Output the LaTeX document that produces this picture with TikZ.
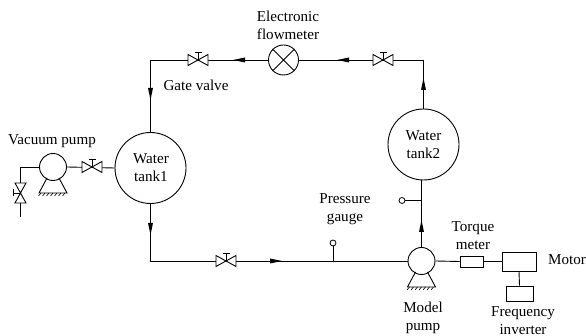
\documentclass[tikz,border=0pt]{standalone}
\usepackage{fontspec}
\setmainfont{Liberation Serif}
\tikzset{
  pipe/.style={line width=0.9pt},
  lbl/.style={inner sep=0pt,align=center,font=\fontsize{15.1}{18}\selectfont},
  vessel/.style={circle,draw,line width=0.9pt,fill=white,inner sep=0pt},
  boxx/.style={rectangle,draw,line width=0.9pt,fill=white,inner sep=0pt},
  port/.style={circle,draw,line width=0.8pt,fill=white,inner sep=0pt,minimum size=6pt},
}
\newcommand{\valveh}[2]{%
  \coordinate (#2) at (#1);
  \draw[pipe,fill=white] ([shift={(-10,-5.5)}]#2) -- ([shift={(10,5.5)}]#2) -- ([shift={(10,-5.5)}]#2) -- ([shift={(-10,5.5)}]#2) -- cycle;
  \draw[pipe] (#2) -- ([yshift=7.5pt]#2) ([shift={(-3.5,7.5)}]#2) -- ([shift={(3.5,7.5)}]#2);
}
\newcommand{\valvev}[2]{%
  \coordinate (#2) at (#1);
  \draw[pipe,fill=white] ([shift={(-5.5,10)}]#2) -- ([shift={(5.5,-10)}]#2) -- ([shift={(-5.5,-10)}]#2) -- ([shift={(5.5,10)}]#2) -- cycle;
  \draw[pipe] (#2) -- ([xshift=-7.5pt]#2) ([shift={(-7.5,3.5)}]#2) -- ([shift={(-7.5,-3.5)}]#2);
}
\newcommand{\pumpbase}[1]{%
  \draw[pipe] ([shift={(-6,-11)}]#1.center) -- ([shift={(-14,-26)}]#1.center) -- ([shift={(14,-26)}]#1.center) -- ([shift={(6,-11)}]#1.center);
  \foreach \i in {-12,-8,...,14} \draw[line width=0.6pt] ([shift={(\i,-26)}]#1.center) -- ++(-2.5,-3);
}
\begin{document}
\begin{tikzpicture}[x=1pt,y=1pt]
\useasboundingbox (0,0) rectangle (586,336);
\fill[white] (0,0) rectangle (586,336);
\coordinate (tr) at (423.5,276);
\coordinate (vl) at (20.5,169);
\coordinate (vend) at (20.5,119);
\node[vessel,minimum size=71pt] (t1) at (150.5,168) {};
\node[vessel,minimum size=71pt] (t2) at (423.5,191.5) {};
\node[vessel,minimum size=30pt] (fm) at (283.5,276) {};
\node[vessel,minimum size=27pt] (vp) at (53,169) {};
\node[vessel,minimum size=27pt] (mp) at (421.5,75) {};
\node[boxx,minimum width=23pt,minimum height=11pt] (tq) at (471.5,74.5) {};
\node[boxx,minimum width=34pt,minimum height=19pt] (mo) at (519,74.5) {};
\node[boxx,minimum width=27pt,minimum height=15pt] (fi) at (519.5,42.5) {};
\node[port] (pg) at (333,93) {};
\node[port] (wg) at (402,135.5) {};
\coordinate (pgb) at (333,75);
\coordinate (wgb) at (421.5,135.5);
\draw[pipe] (t1.north) |- (fm.west);
\draw[pipe] (fm.east) -- (tr) -- (t2.north);
\draw[pipe] (t1.south) |- (mp.west);
\draw[pipe] (mp.north) -- (mp.north |- t2.south);
\draw[pipe] (pg) -- (pgb);
\draw[pipe] (wg) -- (wgb);
\draw[pipe] (vp.east) -- (t1.west);
\draw[pipe] (vp.west) -- (vl) -- (vend);
\draw[pipe] (mp.east) -- (tq.west);
\draw[pipe] (tq.east) -- (mo.west);
\draw[pipe] (mo.south) -- (fi.north);
\draw[pipe] (fm.north west) -- (fm.south east) (fm.north east) -- (fm.south west);
\fill (150.5,236) -- (148,248) -- (153,248) -- cycle;
\fill (150.5,101) -- (148,113) -- (153,113) -- cycle;
\fill (233,276) -- (245,273.5) -- (245,278.5) -- cycle;
\fill (337,276) -- (349,273.5) -- (349,278.5) -- cycle;
\fill (423.5,258) -- (421,246) -- (426,246) -- cycle;
\fill (421.5,116) -- (419,104) -- (424,104) -- cycle;
\fill (282,75) -- (270,72.5) -- (270,77.5) -- cycle;
\valveh{198,276}{va}
\valveh{383,276}{vb}
\valveh{92,169}{vc}
\valveh{226,75}{vd}
\valvev{20.5,143}{ve}
\pumpbase{vp}
\pumpbase{mp}
\node[lbl] (l1) at (288,310.5) {Electronic\\flowmeter};
\node[lbl] (l2) at (196,251) {Gate valve};
\node[lbl] (l3) at (52,195) {Vacuum pump};
\node[lbl] (l4) at (151,168) {Water\\tank1};
\node[lbl] (l5) at (423.5,191) {Water\\tank2};
\node[lbl] (l6) at (345,127) {Pressure\\gauge};
\node[lbl] (l7) at (473,100) {Torque\\meter};
\node[lbl] (l8) at (567,76) {Motor};
\node[lbl] (l9) at (423,18) {Model\\pump};
\node[lbl] (l10) at (523,15) {Frequency\\inverter};
\end{tikzpicture}
\end{document}
